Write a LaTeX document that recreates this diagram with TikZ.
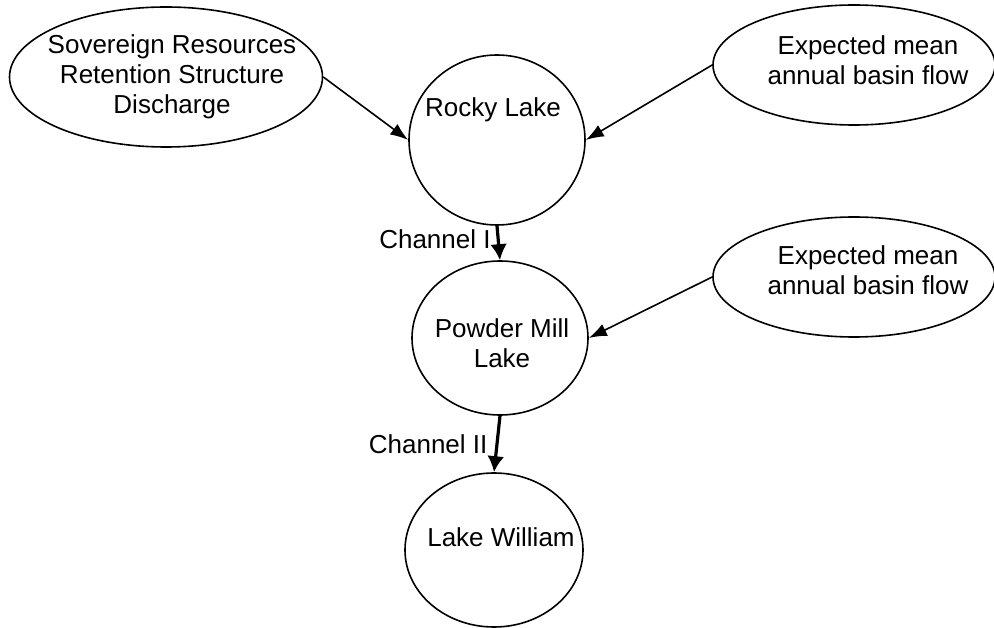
\documentclass[tikz,border=0pt]{standalone}
\usepackage{fontspec}
\setmainfont{Liberation Sans}
\usetikzlibrary{shapes.geometric,arrows.meta}
\begin{document}
\begin{tikzpicture}[x=1pt,y=-1pt,
  txt/.style={font=\fontsize{26}{30}\selectfont, align=center, inner sep=0pt},
  lake/.style={draw, ellipse, line width=1.6pt, inner sep=0pt},
  flow/.style={line width=1.6pt, -{Latex[length=18pt,width=13pt]}},
  chan/.style={line width=3.2pt, -{Latex[length=16pt,width=17pt]}}
]
\useasboundingbox (0,0) rectangle (994,628);
% ellipses / circles
\node[lake, minimum width=313pt, minimum height=140pt] (sov) at (166,77) {};
\node[lake, minimum width=282pt, minimum height=120pt] (exp1) at (854,65) {};
\node[lake, minimum width=282pt, minimum height=120pt] (exp2) at (854,277) {};
\node[lake, minimum width=176pt, minimum height=170pt] (rocky) at (497,140) {};
\node[lake, minimum width=176pt, minimum height=154pt] (powder) at (500,338) {};
\node[lake, minimum width=178pt, minimum height=154pt] (william) at (494,550) {};
% texts
\node[txt] (sovt) at (172,77) {Sovereign Resources\\Retention Structure\\Discharge};
\node[txt] (exp1t) at (868,60) {Expected mean\\annual basin flow};
\node[txt] (exp2t) at (868,270) {Expected mean\\annual basin flow};
\node[txt] (rockyt) at (493,110) {Rocky Lake};
\node[txt] (powdert) at (502,343) {Powder Mill\\Lake};
\node[txt] (williamt) at (501,537) {Lake William};
% connectors
\draw[flow] (sov.east) -- (rocky.west);
\draw[flow] (exp1.west) -- (rocky.east);
\draw[flow] (exp2.west) -- (powder.east);
\draw[chan] (rocky.south) -- node[txt, left=6pt, pos=0.4] (c1) {Channel I} (powder.north);
\draw[chan] (powder.south) -- node[txt, left=8pt, pos=0.5] (c2) {Channel II} (william.north);
\end{tikzpicture}
\end{document}
